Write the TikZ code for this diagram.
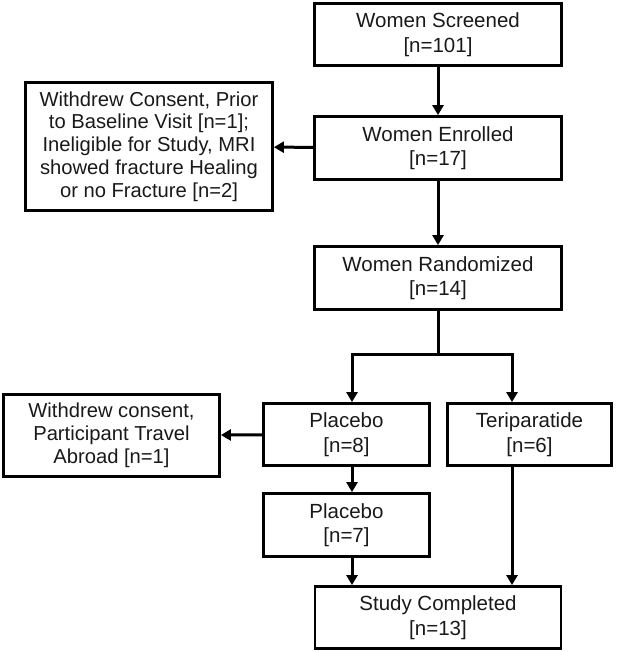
\documentclass[tikz,border=0pt]{standalone}
\usepackage{fontspec}
\setmainfont{Liberation Sans}
\usetikzlibrary{arrows.meta}
\begin{document}
\begin{tikzpicture}[x=1pt,y=-1pt,
  box/.style={draw=black,line width=2.8pt,align=center,inner sep=0pt,
    text=black!90,font=\fontsize{20.5}{24.5}\selectfont},
  sidebox/.style={box,font=\fontsize{20.2}{22.8}\selectfont},
  arr/.style={line width=3pt,-{Triangle[length=10pt,width=11pt]}},
  ln/.style={line width=3pt}]
\useasboundingbox (0,0) rectangle (616,652);
\node[box,minimum width=247pt,minimum height=62pt] (scr) at (438,34.5) {Women Screened\\{}[n=101]};
\node[sidebox,minimum width=247pt,minimum height=128pt] (wd1) at (149,146.5) {Withdrew Consent, Prior\\to Baseline Visit [n=1];\\Ineligible for Study, MRI\\showed fracture Healing\\or no Fracture [n=2]};
\node[box,minimum width=247pt,minimum height=63pt] (enr) at (438,148) {Women Enrolled\\{}[n=17]};
\node[box,minimum width=247pt,minimum height=63pt] (rnd) at (438,278) {Women Randomized\\{}[n=14]};
\node[box,minimum width=166pt,minimum height=62pt] (pl1) at (346.5,434.5) {Placebo\\{}[n=8]};
\node[box,minimum width=164pt,minimum height=62pt] (ter) at (529.5,434.5) {Teriparatide\\{}[n=6]};
\node[sidebox,minimum width=216pt,minimum height=82pt] (wd2) at (111.5,435.5) {Withdrew consent,\\Participant Travel\\Abroad [n=1]};
\node[box,minimum width=166pt,minimum height=63pt] (pl2) at (346.5,525) {Placebo\\{}[n=7]};
\node[box,minimum width=246pt,minimum height=62pt] (stu) at (438,617.5) {Study Completed\\{}[n=13]};
\coordinate (j) at (438,354);
\coordinate (bl) at (352,354);
\coordinate (br) at (512,354);
\draw[arr] (scr) -- (enr);
\draw[arr] (enr) -- (wd1);
\draw[arr] (enr) -- (rnd);
\draw[ln] (rnd.south) -- (j);
\draw[ln,line cap=rect] (bl) -- (br);
\draw[arr] (bl) -- (bl |- pl1.north);
\draw[arr] (br) -- (br |- ter.north);
\draw[arr] (pl1) -- (wd2);
\draw[arr] (bl |- pl1.south) -- (bl |- pl2.north);
\draw[arr] (bl |- pl2.south) -- (bl |- stu.north);
\draw[arr] (br |- ter.south) -- (br |- stu.north);
\end{tikzpicture}
\end{document}
